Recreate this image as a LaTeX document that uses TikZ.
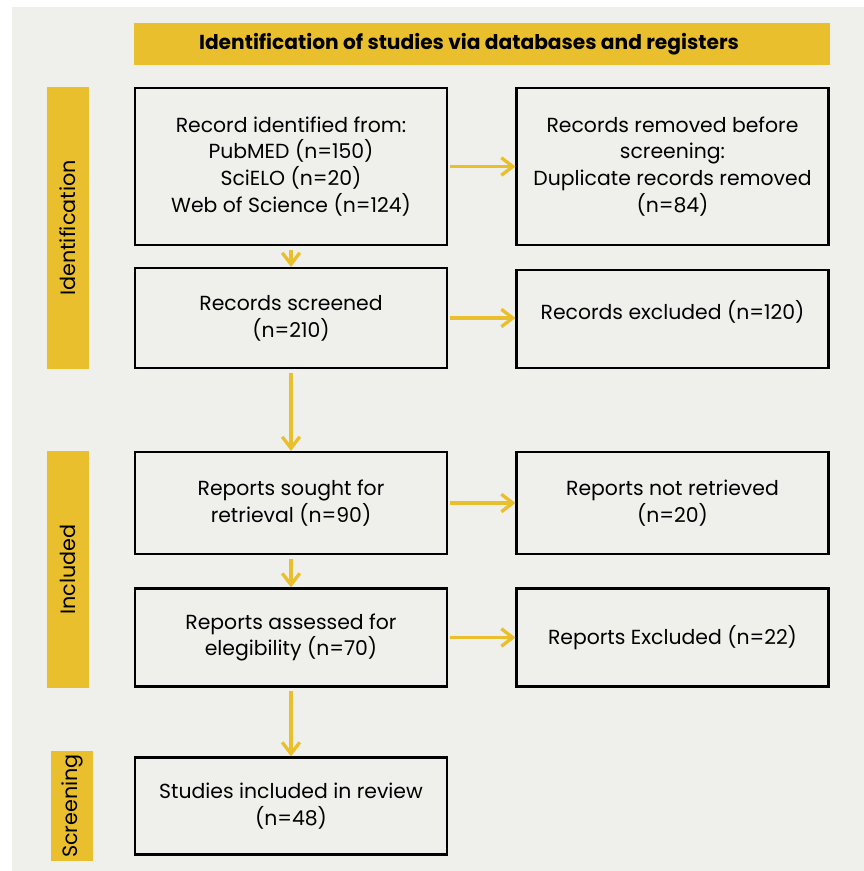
\documentclass[tikz,border=0pt]{standalone}
\usepackage{fontspec}
\setmainfont{Poppins}
\usetikzlibrary{arrows.meta}
\definecolor{prismabg}{HTML}{EFEFEC}
\definecolor{prismagold}{HTML}{EABF2E}

\tikzstyle{box} = [draw=black,line width=1.2pt,minimum width=6.24cm,align=center,font=\fontsize{11.6}{15.3}\selectfont,inner sep=0pt]
\tikzstyle{band} = [fill=prismagold,draw=none,inner sep=0pt]
\tikzstyle{flow} = [draw=prismagold,line width=1.9pt,-{Straight Barb[length=6.5pt,width=10pt,line width=1.9pt]}]

\begin{document}
\begin{tikzpicture}[x=0.02cm,y=-0.02cm]
\useasboundingbox (0,0) rectangle (864,871);
\fill[prismabg] (12,7) rectangle (864,871);
% title band and side bands
\node[band,minimum width=13.92cm,minimum height=0.84cm] at (482,44) (title) {};
\node[font=\fontsize{11.5}{14}\selectfont\bfseries] at (469,44) {Identification of studies via databases and registers};
\node[band,minimum width=0.84cm,minimum height=5.64cm] at (68,228) (ident) {};
\node[band,minimum width=0.84cm,minimum height=4.74cm] at (68,569.5) (incl) {};
\node[band,minimum width=0.84cm,minimum height=2.2cm] at (72,806) (screen) {};
\node[rotate=90,font=\fontsize{11.8}{13}\selectfont] at (ident) {Identification};
\node[rotate=90,font=\fontsize{11.8}{13}\selectfont] at (incl) {Included};
\node[rotate=90,font=\fontsize{11.8}{13}\selectfont] at (screen) {Screening};
% left column
\node[box,minimum height=3.14cm] at (291,166.5) (records) {Record identified from:\\PubMED (n=150)\\SciELO (n=20)\\Web of Science (n=124)};
\node[box,minimum height=2.0cm] at (291,318) (screened) {Records screened\\(n=210)};
\node[box,minimum height=2.04cm] at (291,503) (sought) {Reports sought for\\retrieval (n=90)};
\node[box,minimum height=1.96cm] at (291,637.5) (assessed) {Reports assessed for\\elegibility (n=70)};
\node[box,minimum height=1.94cm] at (291,806) (included) {Studies included in review\\(n=48)};
% right column
\node[box,minimum height=3.14cm] at (672.5,166.5) (removed) {Records removed before\\screening:\\Duplicate records removed\\(n=84)};
\node[box,minimum height=1.96cm] at (672.5,319) (excluded) {\raisebox{10pt}{Records excluded (n=120)}};
\node[box,minimum height=2.04cm] at (672.5,503) (notret) {Reports not retrieved\\(n=20)};
\node[box,minimum height=1.96cm] at (672.5,637.5) (repexcl) {Reports Excluded (n=22)};
% arrows
\draw[flow] ([yshift=-2pt]records.south) -- (screened.north);
\draw[flow] ([yshift=-2pt]screened.south) -- (sought.north);
\draw[flow] ([yshift=-2pt]sought.south) -- (assessed.north);
\draw[flow] ([yshift=-2pt]assessed.south) -- (included.north);
\draw[flow] ([xshift=1pt]records.east) -- (removed.west);
\draw[flow] ([xshift=1pt]screened.east) -- (excluded.west |- screened.east);
\draw[flow] ([xshift=1pt]sought.east) -- (notret.west);
\draw[flow] ([xshift=1pt]assessed.east) -- (repexcl.west);
\end{tikzpicture}
\end{document}
